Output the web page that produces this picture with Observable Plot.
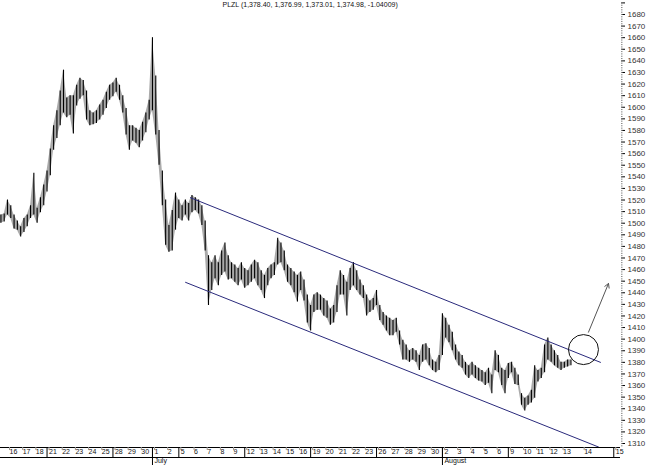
<!DOCTYPE html>
<html><head><meta charset="utf-8">
<script src="https://cdn.jsdelivr.net/npm/d3@7"></script>
<script src="https://cdn.jsdelivr.net/npm/@observablehq/plot@0.6"></script>
<style>body{margin:0;background:#fff} #chart svg{display:block}</style>
</head><body><div id="chart"></div>
<script>
const title = "PLZL (1,378.40, 1,376.99, 1,373.01, 1,374.98, -1.04009)";

// trading-day labels (June 16 .. August) and their day positions
const dayNames = ["16","17","18","21","22","23","24","25","28","29","30","1","2","5","6","7","8","9","12","13","14","15","16","19","20","21","22","23","26","27","28","29","30","2","3","4","5","6","9","10","11","12","13","14","15"];
const dayPos = [0,1,2,3,4,5,6,7,8,9,10,11,12,13,14,15,16,17,18,19,20,21,22,23,24,25,26,27,28,29,30,31,32,33,34,35,36,37,38,39,40,41,42,43.6,46];
const weekStarts = [3,8,11,13,18,23,28,33,38,46];
const monthNames = ["July","August"];
const monthPos = [11,33];
const yLabels = [1310,1320,1330,1340,1350,1360,1370,1380,1390,1400,1410,1420,1430,1440,1450,1460,1470,1480,1490,1500,1510,1520,1530,1540,1550,1560,1570,1580,1590,1600,1610,1620,1630,1640,1650,1660,1670,1680];

// intraday bars: 4 per trading day, starting half a day before June 16
const barsPerDay = 4;
const firstBarDay = -0.5;
const highs = [1507,1508,1520,1515,1507,1502,1497,1504,1507,1515,1543,1513,1522,1533,1545,1564,1584,1597,1614,1632,
1608,1610,1610,1619,1625,1623,1614,1597,1595,1597,1602,1606,1613,1619,1621,1625,1619,1610,1599,1584,
1584,1582,1580,1587,1595,1606,1660,1627,1580,1545,1520,1498,1511,1526,1520,1515,1520,1517,1524,1522,
1520,1515,1502,1472,1466,1472,1466,1476,1483,1472,1466,1464,1461,1466,1461,1459,1464,1468,1466,1459,
1455,1461,1464,1466,1487,1483,1476,1464,1461,1458,1455,1458,1451,1438,1429,1438,1440,1438,1435,1433,
1426,1429,1446,1459,1455,1449,1461,1466,1459,1451,1446,1438,1433,1435,1442,1429,1423,1420,1418,1416,
1418,1407,1399,1395,1390,1392,1390,1386,1395,1396,1392,1382,1380,1386,1422,1418,1412,1406,1395,1389,
1386,1380,1377,1380,1377,1375,1373,1371,1375,1369,1390,1386,1375,1373,1379,1380,1375,1369,1353,1349,
1351,1356,1377,1373,1375,1395,1401,1395,1390,1386,1380,1380,1382,1382];
const lows = [1500,1501,1507,1504,1495,1494,1488,1492,1497,1504,1507,1500,1509,1515,1527,1541,1563,1573,1584,1595,
1591,1593,1577,1601,1607,1610,1589,1584,1585,1586,1589,1593,1599,1606,1609,1613,1606,1595,1576,1563,
1571,1569,1565,1571,1578,1589,1597,1576,1550,1515,1481,1475,1476,1494,1504,1502,1507,1502,1509,1511,
1508,1498,1476,1429,1442,1452,1446,1455,1458,1451,1452,1449,1446,1451,1444,1446,1449,1452,1446,1442,
1435,1446,1452,1455,1464,1466,1459,1449,1446,1440,1432,1442,1433,1414,1407,1423,1425,1425,1420,1418,
1412,1414,1423,1438,1438,1420,1442,1446,1442,1438,1435,1420,1423,1425,1429,1416,1412,1407,1403,1403,
1406,1395,1382,1382,1380,1382,1380,1373,1380,1382,1377,1373,1371,1373,1386,1401,1397,1390,1382,1377,
1375,1369,1366,1369,1366,1364,1363,1360,1362,1353,1373,1371,1360,1353,1366,1371,1361,1360,1343,1338,
1343,1345,1349,1363,1366,1371,1382,1380,1377,1375,1373,1375,1376,1377];

// drawn annotations (trend channel, circle, arrow)
const upperChannel = [{day:13.88, price:1522},{day:44.99, price:1380}];
const lowerChannel = [{day:13.51, price:1449},{day:44.84, price:1307}];
const circleMark = [{day:43.7, price:1391}];
const arrowMark = [{d1:44.08, p1:1406, d2:45.6, p2:1448}];

const bars = highs.map((h,i)=>({day:firstBarDay + i/barsPerDay, high:h, low:lows[i]}));
const dayLabel = new Map(dayPos.map((p,i)=>[p, dayNames[i]]));
const monthLabel = new Map(monthPos.map((p,i)=>[p, monthNames[i]]));
const yDomain = [1306.56, 1692.07];

const chart = Plot.plot({
  width:650, height:465,
  marginLeft:0, marginRight:30, marginTop:0, marginBottom:18,
  x:{domain:[-0.531,46.51], axis:null},
  y:{domain:yDomain, axis:null},
  style:{fontFamily:"'Liberation Sans', Arial, sans-serif", fontSize:"8px", background:"#fff", overflow:"visible"},
  marks:[
    Plot.areaY(bars,{x:"day", y1:"low", y2:"high", fill:"#555", fillOpacity:0.5}),
    Plot.ruleX(bars,{x:"day", y1:"low", y2:"high", stroke:"#000", strokeWidth:1.1}),
    Plot.line(upperChannel,{x:"day", y:"price", stroke:"#2a2a7c", strokeWidth:1}),
    Plot.line(lowerChannel,{x:"day", y:"price", stroke:"#2a2a7c", strokeWidth:1}),
    Plot.dot(circleMark,{x:"day", y:"price", r:15, stroke:"#111", strokeWidth:1}),
    Plot.arrow(arrowMark,{x1:"d1", y1:"p1", x2:"d2", y2:"p2", stroke:"#555", strokeWidth:1, headLength:7}),
    // y axis
    Plot.axisY(yLabels,{anchor:"right", tickSize:4, tickPadding:3, fontSize:8, fill:"#333", label:null, tickFormat:d=>String(d)}),
    Plot.axisY([1690],{anchor:"right", tickSize:4, label:null, tickFormat:()=>""}),
    Plot.axisY(d3.range(1308,1692,2),{anchor:"right", tickSize:1.5, stroke:"#888", label:null, tickFormat:()=>""}),
    // bottom date band
    Plot.ruleY([yDomain[0]],{stroke:"#000", strokeWidth:1}),
    Plot.ruleY([yDomain[0]],{stroke:"#000", strokeWidth:1, dy:10}),
    Plot.axisX(dayPos,{anchor:"bottom", tickSize:3, tickPadding:-1, stroke:"#999", fill:"#111", fontSize:7, textAnchor:"start", dx:2, label:null, tickFormat:d=>dayLabel.get(d)}),
    Plot.axisX(weekStarts,{anchor:"bottom", tickSize:10, stroke:"#000", label:null, tickFormat:()=>""}),
    Plot.axisX(monthPos,{anchor:"bottom", tickSize:18, stroke:"#000", label:null, tickFormat:()=>""}),
    Plot.axisX(monthPos,{anchor:"bottom", tickSize:0, tickPadding:11, fill:"#111", fontSize:7, textAnchor:"start", dx:2, label:null, tickFormat:d=>monthLabel.get(d)}),
    Plot.text([title],{frameAnchor:"top-left", dx:222, dy:2, textAnchor:"start", lineAnchor:"top", fontSize:7, fill:"#111"})
  ]
});
document.getElementById("chart").append(chart);
</script>
</body></html>
